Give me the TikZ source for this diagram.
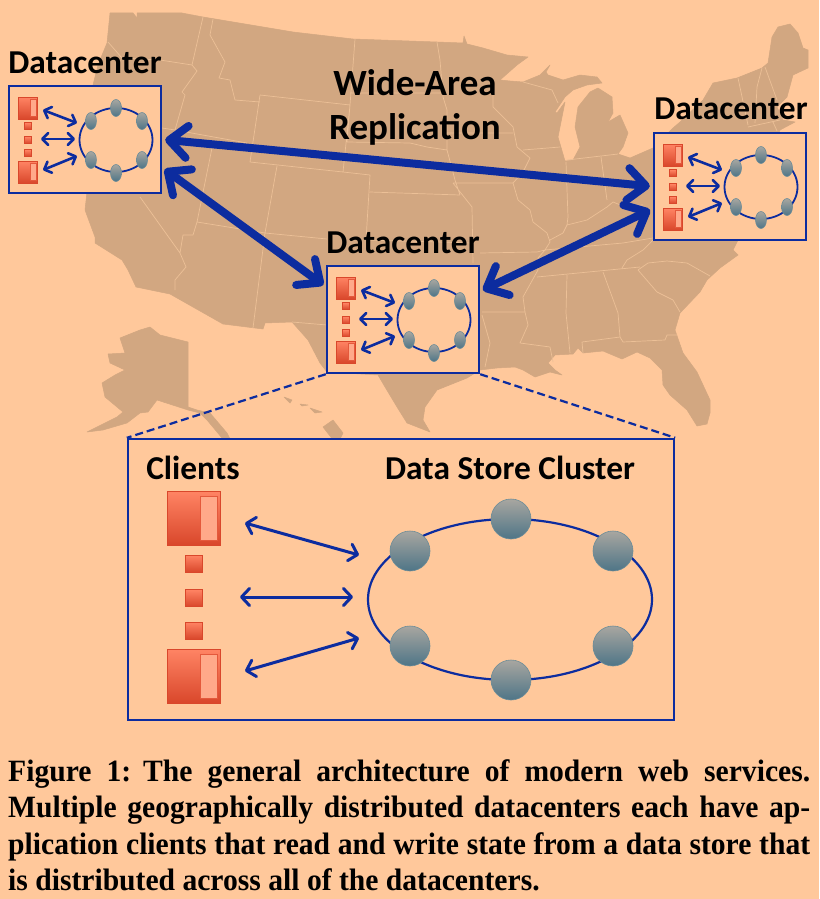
\documentclass[tikz,border=0pt]{standalone}
\usepackage{fontspec}
\setmainfont{Carlito}
\newfontfamily\capfont[FakeStretch=0.955]{Liberation Serif}
\usetikzlibrary{arrows.meta,shapes.geometric}
\definecolor{bgc}{HTML}{FFC89B}
\definecolor{landc}{HTML}{D2A781}
\definecolor{statec}{HTML}{ECC097}
\definecolor{bluec}{HTML}{0C2C9F}
\definecolor{redt}{HTML}{FF8464}
\definecolor{redb}{HTML}{D9472B}
\definecolor{barc}{HTML}{FFA98A}
\definecolor{gtop}{HTML}{A8A6A0}
\definecolor{gbot}{HTML}{4E7587}
\definecolor{gline}{HTML}{6B8C98}
\tikzset{
 x=1pt,y=-1pt,
 land/.style={fill=landc,draw=landc,line width=.5pt,line join=round},
 stateline/.style={draw=statec,line width=.7pt,line join=round},
 dcframe/.style={draw=bluec,fill=bgc,line width=2.4pt,rectangle,inner sep=0pt,minimum width=152pt,minimum height=107pt},
 bigframe/.style={draw=bluec,fill=bgc,line width=2.4pt,rectangle,inner sep=0pt,minimum width=546pt,minimum height=281pt},
 redbox/.style={rectangle,inner sep=0pt,draw=redb,top color=redt,bottom color=redb,line width=.7pt},
 barbox/.style={rectangle,inner sep=0pt,draw=redb!70!redt,fill=barc,line width=.7pt},
 ringline/.style={ellipse,draw=bluec,inner sep=0pt},
 gnode/.style={ellipse,inner sep=0pt,draw=gline,top color=gtop,bottom color=gbot,line width=.6pt},
 thin2/.style={bluec,line width=2.6pt,line cap=round,{Straight Barb[length=6pt,width=12pt,line width=2.6pt,round]}-{Straight Barb[length=6pt,width=12pt,line width=2.6pt,round]}},
 wide2/.style={bluec,line width=3pt,line cap=round,{Straight Barb[length=8pt,width=17pt,line width=3pt,round]}-{Straight Barb[length=8pt,width=17pt,line width=3pt,round]}},
 wan/.style={bluec,line width=8pt,line cap=round,{Straight Barb[length=18pt,width=32pt,line width=8pt,round]}-{Straight Barb[length=18pt,width=32pt,line width=8pt,round]},shorten <=3pt,shorten >=3pt},
 zoomline/.style={bluec,line width=2.2pt,dash pattern=on 8pt off 4pt},
 lab/.style={anchor=base,font=\bfseries\fontsize{33.4}{36}\selectfont,inner sep=0pt},
 labbig/.style={anchor=base,font=\bfseries\fontsize{37}{40}\selectfont,inner sep=0pt},
 capline/.style={anchor=base west,inner sep=0pt,font=\capfont\bfseries\fontsize{31}{34}\selectfont}
}
% #1 name prefix, #2 x, #3 y of the top-left corner
\newcommand\dcgroup[3]{%
\begin{scope}[shift={(#2,#3)}]
 \node[dcframe] (#1box) at (76,53.5) {};
 \node[redbox,minimum width=19pt,minimum height=22pt] (#1sa) at (18.5,22) {};
 \node[barbox,minimum width=6pt,minimum height=17pt] (#1ba) at (24,22) {};
 \node[redbox,minimum width=6.5pt,minimum height=6.5pt] (#1d1) at (19,40) {};
 \node[redbox,minimum width=6.5pt,minimum height=6.5pt] (#1d2) at (19,54) {};
 \node[redbox,minimum width=6.5pt,minimum height=6.5pt] (#1d3) at (19,67) {};
 \node[redbox,minimum width=19pt,minimum height=22pt] (#1sb) at (18.5,86) {};
 \node[barbox,minimum width=6pt,minimum height=17pt] (#1bb) at (24,86) {};
 \node[ringline,line width=1.8pt,minimum width=73pt,minimum height=64pt] (#1ring) at (107,54) {};
 \node[gnode,minimum width=11pt,minimum height=17pt] (#1n1) at (107,22) {};
 \node[gnode,minimum width=11pt,minimum height=17pt] (#1n2) at (82,35) {};
 \node[gnode,minimum width=11pt,minimum height=17pt] (#1n3) at (133,35) {};
 \node[gnode,minimum width=11pt,minimum height=17pt] (#1n4) at (82,74) {};
 \node[gnode,minimum width=11pt,minimum height=17pt] (#1n5) at (133,74) {};
 \node[gnode,minimum width=11pt,minimum height=17pt] (#1n6) at (107,87) {};
 \coordinate (#1a1) at (34,24); \coordinate (#1a2) at (68,37);
 \coordinate (#1b1) at (32,53); \coordinate (#1b2) at (66,53);
 \coordinate (#1c1) at (34,84); \coordinate (#1c2) at (68,70);
 \draw[thin2] (#1a1) -- (#1a2);
 \draw[thin2] (#1b1) -- (#1b2);
 \draw[thin2] (#1c1) -- (#1c2);
\end{scope}}
\begin{document}
\begin{tikzpicture}
\useasboundingbox (0,0) rectangle (819,899);
\fill[bgc] (0,0) rectangle (819,899);
% mainland
\path[land] (110,13)--(133,13)--(137,18)--(137,13)--(182,13)--(203,17)--(293,32)--(353,39)--(437,42)--(463,43)--(464,36)--(467,44)--(483,48)--(507,55)--(528,57)--(517,65)--(500,80)--(510,81)--(523,82)--(540,75)--(550,65)--(546,72)--(548,75)--(563,80)--(580,75)--(597,77)--(602,83)--(587,85)--(573,90)--(565,97)--(555,112)--(557,113)--(565,102)--(560,127)--(558,137)--(565,161)--(573,160)--(580,147)--(575,127)--(578,107)--(590,92)--(598,88)--(612,97)--(613,113)--(608,122)--(620,115)--(628,133)--(623,147)--(618,154)--(630,158)--(653,148)--(673,128)--(680,122)--(703,100)--(713,83)--(737,78)--(762,68)--(768,63)--(772,37)--(778,27)--(790,24)--(798,33)--(803,48)--(808,50)--(808,68)--(793,75)--(787,97)--(777,107)--(783,120)--(795,122)--(780,130)--(760,200)--(737,242)--(733,250)--(738,255)--(720,268)--(707,280)--(700,292)--(680,313)--(675,330)--(683,353)--(697,372)--(710,400)--(710,413)--(707,424)--(697,426)--(687,410)--(670,395)--(663,385)--(662,370)--(650,358)--(637,352)--(622,359)--(603,351)--(583,353)--(578,348)--(573,354)--(555,355)--(548,363)--(555,370)--(562,375)--(550,372)--(535,377)--(523,370)--(515,367)--(497,368)--(480,370)--(467,378)--(437,390)--(425,407)--(423,420)--(430,432)--(407,423)--(397,407)--(385,387)--(378,375)--(327,372)--(320,363)--(308,340)--(292,322)--(265,323)--(263,329)--(223,324)--(170,294)--(136,287)--(128,270)--(122,260)--(95,243)--(95,237)--(85,210)--(87,192)--(93,85)--(98,65)--(107,43)--cycle;
% Alaska
\path[land] (188,342)--(188,407)--(197,410)--(210,413)--(227,433)--(233,445)--(222,438)--(207,420)--(200,413)--(188,410)--(157,400)--(148,412)--(140,413)--(127,423)--(103,430)--(87,432)--(117,417)--(123,412)--(105,397)--(102,383)--(115,375)--(125,370)--(110,363)--(108,354)--(125,353)--(120,338)--(140,330)--(150,327)--(160,335)--cycle;
% Hawaii
\path[land] (284,397)--(292,400)--(290,403)--cycle;
\path[land] (300,404)--(308,405)--(302,406)--cycle;
\path[land] (310,408)--(322,412)--(315,413)--cycle;
\path[land] (323,427)--(333,420)--(343,433)--(337,445)--cycle;
% state borders
\draw[stateline]
 (203,17)--(192,65)--(197,71)--(182,92)--(185,95)--(175,130)
 (108,42)--(122,58)--(160,60)--(192,65)
 (213,19)--(210,35)--(225,62)--(219,78)--(230,80)--(235,100)--(260,102)
 (260,95)--(350,105) (260,95)--(250,162)--(343,172)--(350,105)
 (355,39)--(350,105) (437,42)--(440,60)--(443,97)
 (350,93)--(443,93)
 (347,142)--(410,143)--(427,147)--(447,150)
 (350,105)--(347,142)
 (443,97)--(447,110)--(447,150)
 (162,128)--(175,130)--(247,143)
 (212,148)--(197,222)
 (277,166)--(265,233)--(253,328)
 (197,222)--(265,233)--(327,239)
 (140,197)--(180,253)--(186,267)--(175,280)--(175,290)
 (180,253)--(183,235)--(193,235)--(197,222)
 (343,172)--(370,175)--(366,240)
 (370,192)--(460,195)
 (447,150)--(455,180)--(460,195)
 (292,322)--(327,325)
 (366,240)--(473,243)
 (453,183)--(472,207)--(473,263)
 (480,253)--(537,252)--(545,250)
 (482,312)--(525,312)
 (482,315)--(490,343)--(485,367)
 (545,250)--(538,258)--(538,270)--(523,297)--(525,312)--(528,325)--(520,343)--(550,347)--(553,362)
 (537,277)--(640,267)
 (622,268)--(627,260)--(643,250)--(653,240)
 (638,270)--(648,263)--(667,261)--(687,263)--(710,276)
 (638,270)--(657,292)--(673,300)--(680,312)
 (567,275)--(566,313)--(570,353)
 (603,272)--(618,313)--(620,337)--(623,342)--(665,340)--(667,335)--(677,335)
 (620,337)--(582,342)--(583,353)
 (545,250)--(623,243)--(653,238)
 (550,240)--(563,233)--(567,225)--(587,220)--(607,207)--(613,202)--(623,206)--(643,205)
 (566,162)--(568,217)--(567,225)
 (493,80)--(493,107)--(513,127)--(517,147)--(530,158)--(523,172)--(513,183)--(518,200)--(530,210)--(533,222)--(547,233)--(550,242)--(545,250)
 (445,133)--(513,133)
 (453,183)--(513,183)
 (523,150)--(560,147)
 (601,157)--(607,200)
 (567,160)--(618,154)
 (523,82)--(552,90)--(558,103)
 (738,78)--(748,125)
 (762,68)--(757,87)--(755,123)
 (765,67)--(777,100)
 (748,127)--(780,120)
 (773,122)--(777,131);
% datacenters
\dcgroup{dca}{9}{86}
\dcgroup{dcb}{654}{133}
\dcgroup{dcc}{327}{266}
\node[lab] (lbla) at (85,74) {Datacenter};
\node[lab] (lblb) at (731,119) {Datacenter};
\node[lab] (lblc) at (403,253) {Datacenter};
\node[labbig] (wan1) at (415,95.5) {Wide-Area};
\node[labbig] (wan2) at (415,139) {Replication};
% wide-area connectors
\draw[wan] (dcabox.0) -- (dcbbox.180);
\draw[wan] (dcabox.-20) -- (dccbox.157);
\draw[wan] (dccbox.20) -- (dcbbox.196);
% zoom box
\node[bigframe] (big) at (401,579.5) {};
\draw[zoomline] (dccbox.south west) -- (big.north west);
\draw[zoomline] (dccbox.south east) -- (big.north east);
\node[lab] (lblcl) at (193,479) {Clients};
\node[lab] (lblds) at (510,479) {Data Store Cluster};
\node[redbox,minimum width=53pt,minimum height=54pt] (s1) at (193.5,518) {};
\node[barbox,minimum width=17pt,minimum height=44pt] (b1) at (208.5,518) {};
\node[redbox,minimum width=17pt,minimum height=17pt] (d1) at (193.5,563.5) {};
\node[redbox,minimum width=17pt,minimum height=17pt] (d2) at (193.5,598) {};
\node[redbox,minimum width=17pt,minimum height=17pt] (d3) at (193.5,630.5) {};
\node[redbox,minimum width=53pt,minimum height=54pt] (s2) at (193.5,676) {};
\node[barbox,minimum width=17pt,minimum height=44pt] (b2) at (208.5,676) {};
\node[ringline,line width=2.2pt,minimum width=284pt,minimum height=161pt] (ring) at (510,599.5) {};
\node[gnode,circle,minimum size=40pt] (g1) at (511,519) {};
\node[gnode,circle,minimum size=40pt] (g2) at (410,551) {};
\node[gnode,circle,minimum size=40pt] (g3) at (613,551) {};
\node[gnode,circle,minimum size=40pt] (g4) at (410,646) {};
\node[gnode,circle,minimum size=40pt] (g5) at (613,646) {};
\node[gnode,circle,minimum size=40pt] (g6) at (511,680) {};
\coordinate (p1) at (245,523); \coordinate (p2) at (359,555);
\coordinate (q1) at (240,597); \coordinate (q2) at (353,597);
\coordinate (r1) at (245,671); \coordinate (r2) at (359,638);
\draw[wide2] (p1) -- (p2);
\draw[wide2] (q1) -- (q2);
\draw[wide2] (r1) -- (r2);
% caption
\node[capline] (cap1) at (8,781) {\hbox to 802pt{Figure 1:\hskip 12pt The general architecture of modern web services.}};
\node[capline] (cap2) at (8,817.5) {\hbox to 802pt{Multiple geographically distributed datacenters each have ap-}};
\node[capline] (cap3) at (8,854) {\hbox to 802pt{plication clients that read and write state from a data store that}};
\node[capline] (cap4) at (8,890.5) {is distributed across all of the datacenters.};
\end{tikzpicture}
\end{document}
